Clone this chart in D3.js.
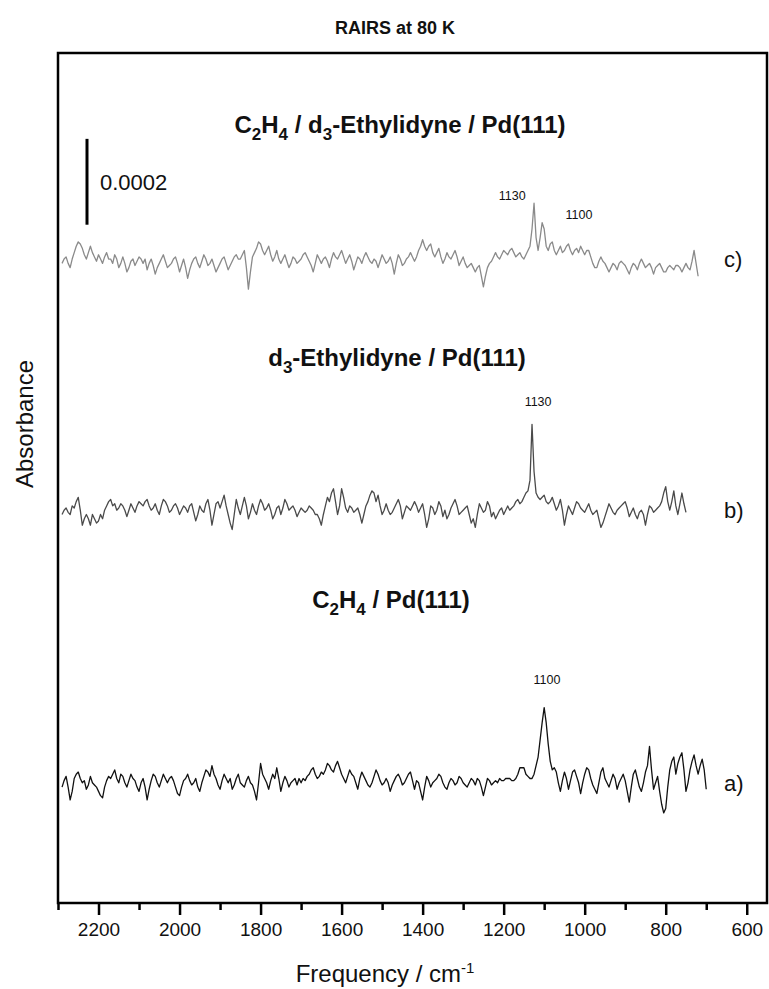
<!DOCTYPE html>
<html>
<head>
<meta charset="utf-8">
<script src="https://cdn.jsdelivr.net/npm/d3@7"></script>
<style>
  body { margin: 0; background: #fff; }
  svg text { font-family: "Liberation Sans", Arial, sans-serif; fill: #111; }
</style>
</head>
<body>
<div id="chart"></div>
<script>
// spectra sampled every 5 cm-1, starting at 2290 cm-1 and going down
const step = 5;
const startFreq = 2290;

// absorbance in units of 1e-5, relative to each trace's own baseline
// a) C2H4 / Pd(111)   2290 -> 700
const traceA = [
  -1, 0.5, 1.5, -1, -4, -2, 1, 2, 2.5, 1, 0, 0.5, -1.5, -0.5, 1.5, 0, -0.5, -1, -2, -3,
  -3.5, -1, 0.5, 1.5, 1, 2, 3, 1, 0, 2, 1.5, 0, -1, 0.5, 2, 1, 0.5, -1, -2, 0,
  1, -1, -4, -1.5, 0.5, 2, 1.5, 0, -1, 0.5, 2, 1, 0, 1, 1.5, 0.5, -1, -2.5, -3, -1,
  0.5, 1, 2, 0.5, -0.5, 0, 1, -1, -2, 0, 1.5, 3, 2.5, 1.5, 4, 2, 1, -0.5, -1.5, 0.5,
  2, 1, 0, 1, -1.5, -0.5, 1, 2, 0, -0.5, -1, 0.5, 1.5, 0, -0.5, -2, -4, 0, 4.5, 2,
  1, 0, -1.5, 0.5, 2, 1, 3.5, 1, -2, 0, 1.5, 0.5, -1, 0, 0.5, 1, -0.5, 1, 0, 1,
  0.5, 1.5, 2, 3, 3.5, 2, 1, 1.5, 2.5, 2, 3, 4.5, 4, 3, 2.5, 4, 5, 3.5, 2, 1,
  0, 1.5, 3, 2, 1.5, 0, -1.5, 1, 2.5, 1.5, 0.5, -0.5, -1, 0, 1.5, 3, 2, 0.5, -0.5, 0,
  1, 0, -2, -0.5, 0.5, 1.5, 2, 1, -0.5, 0, 1, 2, 2.5, 0.5, -1.5, 0.5, 0, -2, -4, -1,
  1.5, 0.5, -1, 0, 0.5, 1, 2, 1.5, 0, -1, -1.5, 0, 1, 0.5, -0.5, 0, 1.5, 1, 0, -0.5,
  -1, 0, 1, 0.5, -0.5, 1, 0.5, -1, -3, -1, 1, 0.5, -0.5, 0, 0.5, 0, 1, 0.5, 0.5, 1,
  1, 1, 0.5, 0.5, 1, 2, 3.5, 3.5, 3.5, 2, 1.5, 1, 1, 2, 4, 6, 10, 14, 17.5, 14,
  9, 5, 3, 3.5, 2.5, 0, -2, 0.5, 2.5, 1, -1.5, 0.5, 2.5, 3, 1.5, 0, -2.5, 0, 2, 3.5,
  3, 1, -0.5, -1.5, -2.5, 0, 2.5, 3.5, 1, 0, -1, 0.5, 2, 1, -1.5, 0, 1, 2, 0.5, -2,
  -4.5, -1, 2, 3, 1, -1, -2, 0, 2.5, 4, 8.5, 3, -1.5, 0, 1.5, -2, -5, -7, -6, -1,
  3, 5, 6, 2, 4.5, 6, 7, 3, -2, 0, 3, 5, 6.5, 4, 2, 4, 5.5, 3, -1.5
];

// b) d3-Ethylidyne / Pd(111)   2290 -> 750
const traceB = [
  -1, 0, 0.5, -0.5, -1, 1, 0.5, 2, 3, 0, -3.5, -2, -1, -2, -3.5, -1, -2, -3, -2.5, -1,
  -2, 0, 1, 2, 2.5, 1, 1.5, 0, 0.5, 1.5, 1, 0, -1.5, 0, 1.5, 0.5, -0.5, 1, 2, 1.5,
  1, 2, 2.5, 1, 0, 0.5, 1.5, 0, -1, 1, 2.5, 2, 1, -0.5, 0, 1, 1.5, 0.5, -1, 0,
  1, 0.5, -0.5, 1, 1.5, -0.5, -2.5, -1, 1, 0, -0.5, 1.5, 2.5, 0, -3.5, -1, 1.5, 2, 0.5, 2,
  3.5, 1, -1, -3, -4.5, -1, 2.5, 0.5, -1, 1, 3, 1, -2, -0.5, 1.5, 0, -1, 1, 2.5, 1.5,
  0, 0.5, 1.5, 0, -2, -1, 0.5, 1, -1, 0.5, 2.5, 1.5, 0, 0.5, 1, 0, -1.5, -0.5, 0.5, 0,
  -0.5, 0, 1, 0.5, 0, -1, -1, -2, -3.5, -1, 1, 3, 2, 4, 5, 2, -1, 1, 5, 3,
  0.5, -0.5, 1, 0.5, -0.5, 0, 0.5, -1, -3, -1, 1, 2, 3.5, 4.5, 4, 2, 3.5, 1, -1, 0,
  1.5, 0, -1, -0.5, 0.5, 1.5, 2.5, 1, -2, -0.5, 1, 0.5, 0, 1, 2, 1, -0.5, 0.5, 1.5, -1,
  -4, -2, 1, 0.5, -1, 0, 2, 1, -1.5, 0, -2, -1, 0.5, 1.5, 2.5, 1, -1, -0.5, 0, 0.5,
  1, -1, -3, -2, -4, -1, 1.5, 0.5, -0.5, 0, 2, 1, -1.5, -0.5, -2, -1, 0, 0.5, -1, 0,
  1, 0, 0.5, 1, 2, 2.5, 1.5, 2, 3, 4, 4.5, 7, 20, 9, 4, 3, 2.5, 3, 3.5, 2,
  1.5, 2, 3, 1.5, 0, 1, 2.5, 0, -3.5, -1, 1, 0, -1, 0.5, 2, 1.5, 0.5, 0, -0.5, 0.5,
  1.5, 0, -1, -0.5, 0, -2, -4, -3, -1.5, 0, 1.5, 0.5, -0.5, -1, 0, 0.5, 1, 1.5, 2, 0.5,
  -1.5, -0.5, 0.5, -1, -2, -0.5, 0, -1, -3.5, -1, 1, 0.5, -0.5, 0, 0.5, 1, 2, 4, 5.5, 2,
  0, 2, 4.5, 1, -1, 1.5, 4, 1.5, -0.5
];

// c) C2H4 / d3-Ethylidyne / Pd(111)   2290 -> 720
const traceC = [
  -1, 0, 0.5, -1, -2, 0, 1.5, 3, 4, 3.5, 2.5, 1, 0, 1.5, 3, 1.5, 0.5, -0.5, 1, 0,
  -1, 0.5, 1.5, 0, 0, -1, 1, 0, -2, -1, 0.5, -1, -3, -2, -0.5, 0, -1.5, -0.5, 0.5, 0,
  -1, 0, -2.5, -1, 0, -1.5, -3.5, -2, -1, 0, 1, -0.5, -2, -1.5, -1, 0, 0.5, -1, -3, -1.5,
  0, -2, -4.5, -2.5, -1, 0, 0.5, -1, -2, -0.5, 1, 0, -1.5, -1, 0, -1.5, -3, -2, -1, 0,
  0.5, -1, -2.5, -1.5, -0.5, 0.5, 1, 0, 0, 1, 2, -2, -7, -3, 0.5, 1.5, 2.5, 4, 3.5, 2,
  1, 2, 3, 1, -0.5, 0.5, 2, 0, -1, 0, 1, -0.5, -2, -1, 0.5, 0, -1, -0.5, 0, 1,
  1.5, 0.5, -0.5, -1.5, -3, -1, 1, 0, -1, 0, 0.5, -0.5, -2, 0, 1.5, 0.5, 0, 1, 2, 0.5,
  -1, 0, 1, -0.5, -2.5, -1, 0.5, 0, -1, 0.5, 1.5, 0.5, -0.5, -1, 0, -0.5, -2, -0.5, 1, 0,
  -1, -0.5, 0.5, -1, -3.5, -1, 1, 0, -1.5, -1, 0, 0.5, 1.5, 0.5, -0.5, 0.5, 2, 3, 4.5, 3,
  2, 3, 3.5, 1.5, 0.5, 1.5, 2.5, 0.5, -1, 0, 1.5, 0.5, 0, 1, 2, 0.5, -1.5, -0.5, 0.5, -1,
  -2, -1.5, -1, -2, -3, -2, -1.5, -4, -6.5, -4, -2, -1, -0.5, 0.5, 1.5, 0.5, 0, 1, 2, 1.5,
  1, 2, 2.5, 1.5, 0.5, 1, 1.5, 0.5, 0, 1, 2, 3, 7, 13, 5, 2, 5, 8.5, 7, 3,
  2, 3.5, 4, 2, 1, 2, 3, 1.5, 2, 3, 3.5, 2, 1, 2, 2.5, 1.5, 3, 2, 1, 2,
  2, 0.5, -1, -2, -2, -0.5, 0.5, -0.5, -1, -2, -3, -2, -1, -1.5, -2.5, -1, -0.5, -1, -1.5, -2.5,
  -3.5, -2, -1, -1.5, -2.5, -1, 0, -1, -2, -1.5, -1, -2, -3.5, -2, -1.5, -1, -2, -3, -3, -2,
  -1.5, -2, -2.5, -1.5, -1.5, -2, -3, -2, -1, -2, -2.5, -0.5, 2, -1, -4
];

// peak annotations: label, label position (cm-1, units above trace baseline)
const peaksA = [{ label: '1100', f: 1093, v: 23 }];
const peaksB = [{ label: '1130', f: 1115, v: 24.3 }];
const peaksC = [{ label: '1130', f: 1179, v: 13.8 }, { label: '1100', f: 1014, v: 9.3 }];

const majorTicks = [2200, 2000, 1800, 1600, 1400, 1200, 1000, 800, 600];
const minorTicks = [2300, 2100, 1900, 1700, 1500, 1300, 1100, 900, 700];

const width = 769, height = 989;
const margin = { top: 53, right: 2, bottom: 86, left: 58 };

const svg = d3.select('#chart').append('svg')
  .attr('width', width)
  .attr('height', height);

const x = d3.scaleLinear()
  .domain([2300, 550])
  .range([margin.left, width - margin.right]);

// y in units of 1e-5 absorbance
const y = d3.scaleLinear()
  .domain([0, 198])
  .range([height - margin.bottom, margin.top]);

const traces = [
  { name: 'a)', values: traceA, offset: 28, color: '#111', peaks: peaksA },
  { name: 'b)', values: traceB, offset: 91.5, color: '#4a4a4a', peaks: peaksB },
  { name: 'c)', values: traceC, offset: 150, color: '#8a8a8a', peaks: peaksC }
];

const line = d3.line()
  .x(d => x(d.f))
  .y(d => y(d.v));

traces.forEach(t => {
  const pts = t.values.map((v, i) => ({ f: startFreq - i * step, v: v + t.offset }));
  svg.append('path')
    .datum(pts)
    .attr('d', line)
    .attr('fill', 'none')
    .attr('stroke', t.color)
    .attr('stroke-width', 1.3)
    .attr('stroke-linejoin', 'round');

  t.peaks.forEach(p => {
    svg.append('text')
      .attr('x', x(p.f))
      .attr('y', y(p.v + t.offset))
      .attr('text-anchor', 'middle')
      .style('font-size', '12.5px')
      .text(p.label);
  });

  svg.append('text')
    .attr('x', 724)
    .attr('y', y(t.offset) + 8)
    .style('font-size', '22px')
    .text(t.name);
});

// frame
svg.append('rect')
  .attr('x', margin.left)
  .attr('y', margin.top)
  .attr('width', width - margin.left - margin.right)
  .attr('height', height - margin.top - margin.bottom)
  .attr('fill', 'none')
  .attr('stroke', '#000')
  .attr('stroke-width', 2.5);

// x axis, major and minor ticks pointing outward
const axisY = height - margin.bottom;
const major = svg.append('g')
  .attr('transform', `translate(0,${axisY})`)
  .call(d3.axisBottom(x).tickValues(majorTicks).tickSize(12).tickPadding(8).tickFormat(d3.format('d')));
major.select('.domain').remove();
major.selectAll('line').attr('stroke', '#000').attr('stroke-width', 2.5);
major.selectAll('text')
  .style('font-size', '19px')
  .style('font-family', '"Liberation Sans", Arial, sans-serif')
  .attr('fill', '#111');

const minor = svg.append('g')
  .attr('transform', `translate(0,${axisY})`)
  .call(d3.axisBottom(x).tickValues(minorTicks).tickSize(7).tickFormat(''));
minor.select('.domain').remove();
minor.selectAll('line').attr('stroke', '#000').attr('stroke-width', 2.5);

// scale bar 0.0002 = 20 units
svg.append('line')
  .attr('x1', 87).attr('x2', 87)
  .attr('y1', y(158)).attr('y2', y(178))
  .attr('stroke', '#000')
  .attr('stroke-width', 3);
svg.append('text')
  .attr('x', 100)
  .attr('y', y(168) + 8)
  .style('font-size', '22px')
  .text('0.0002');

// titles
svg.append('text')
  .attr('x', 395).attr('y', 34)
  .attr('text-anchor', 'middle')
  .style('font-size', '18px')
  .style('font-weight', 'bold')
  .text('RAIRS at 80 K');

function subTitle(parts, cx, cy) {
  const t = svg.append('text')
    .attr('x', cx).attr('y', cy)
    .attr('text-anchor', 'middle')
    .style('font-size', '24px')
    .style('font-weight', 'bold');
  let low = false;
  parts.forEach(p => {
    const sp = t.append('tspan');
    if (p.sub) {
      sp.attr('dy', 7).style('font-size', '17px').text(p.sub);
      low = true;
    } else {
      if (low) sp.attr('dy', -7);
      low = false;
      sp.text(p.t);
    }
  });
}

subTitle([{ t: 'C' }, { sub: '2' }, { t: 'H' }, { sub: '4' }, { t: ' / d' }, { sub: '3' }, { t: '-Ethylidyne / Pd(111)' }], 400, 133);
subTitle([{ t: 'd' }, { sub: '3' }, { t: '-Ethylidyne / Pd(111)' }], 397, 366);
subTitle([{ t: 'C' }, { sub: '2' }, { t: 'H' }, { sub: '4' }, { t: ' / Pd(111)' }], 391, 608);

// axis labels
svg.append('text')
  .attr('transform', 'translate(33,424) rotate(-90)')
  .attr('text-anchor', 'middle')
  .style('font-size', '24px')
  .text('Absorbance');

const xl = svg.append('text')
  .attr('x', 385).attr('y', 982)
  .attr('text-anchor', 'middle')
  .style('font-size', '24px');
xl.append('tspan').text('Frequency / cm');
xl.append('tspan').attr('dy', -9).style('font-size', '15px').text('-1');
</script>
</body>
</html>
